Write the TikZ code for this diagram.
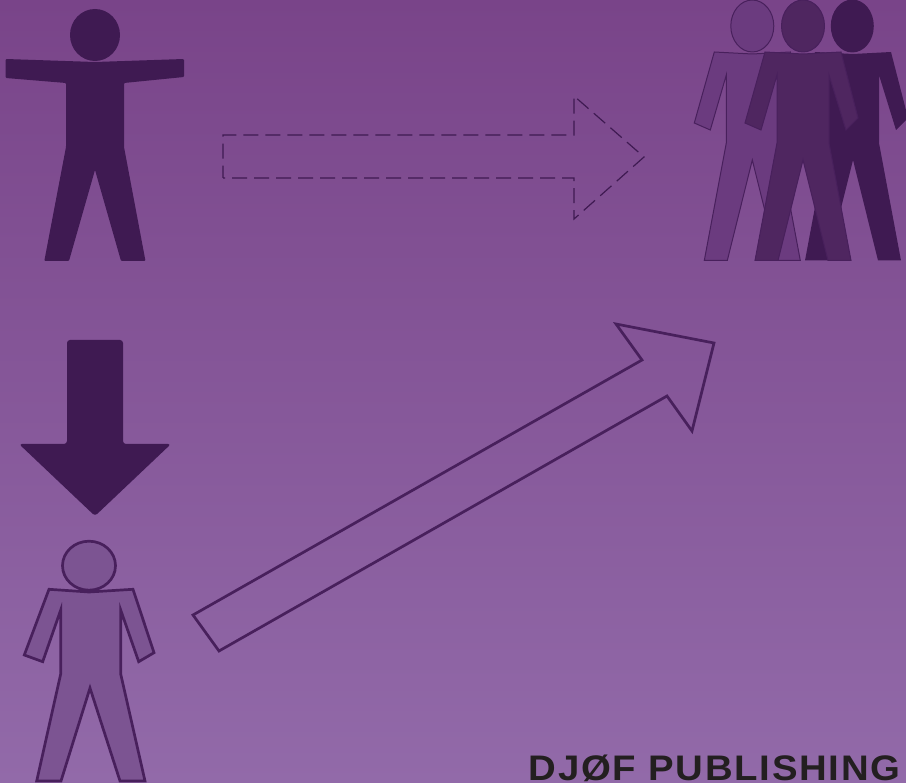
\documentclass[tikz,border=0pt]{standalone}
\usepackage{fontspec}
\newfontfamily\brandfont[LetterSpace=4.8,FakeStretch=1.08]{Liberation Sans}
\definecolor{bgtop}{RGB}{121,68,137}
\definecolor{bgbot}{RGB}{146,106,169}
\definecolor{ink}{RGB}{63,26,82}
\definecolor{lineink}{RGB}{72,32,92}
\definecolor{midfill}{RGB}{79,38,96}
\definecolor{leftfill}{RGB}{107,59,127}
\definecolor{softfill}{RGB}{124,84,146}
\definecolor{brandink}{RGB}{35,31,32}
\newcommand{\groupbody}[1]{
  ({#1-38},52) -- (#1,54) -- ({#1+38},52) -- ({#1+55},118) -- ({#1+43},130) -- ({#1+26},75) -- ({#1+26},143) -- ({#1+48},260.5) -- ({#1+25},260.5) -- (#1,160) -- ({#1-25},260.5) -- ({#1-48},260.5) -- ({#1-26},143) -- ({#1-26},75) -- ({#1-42},130) -- ({#1-58},123) -- cycle
}
\tikzset{
  x=1pt,y=-1pt,
  solidshape/.style={fill=ink,draw=none},
  outlineshape/.style={draw=lineink,line width=2.7pt,line join=miter},
  thinshape/.style={draw=lineink,line width=1pt,line join=miter},
  dashshape/.style={draw=ink,line width=1.2pt,dash pattern=on 15pt off 7pt,dash phase=2.7pt},
}
\begin{document}
\begin{tikzpicture}
\useasboundingbox (0,0) rectangle (906,783);
\begin{scope}
\clip (0,0) rectangle (906,783);
\fill[top color=bgtop,bottom color=bgbot,shading angle=0] (0,0) rectangle (906,783);
% top-left figure
\fill[solidshape] (95,35) ellipse [x radius=25,y radius=26];
\fill[solidshape,rounded corners=1pt] (5.7,59) -- (95,62) -- (184,59) -- (184,77) -- (124,83) -- (124,147) -- (145.5,261) -- (121,261) -- (95,170) -- (69,261) -- (44.3,261) -- (66,147) -- (66,83) -- (5.7,78) -- cycle;
% down arrow
\fill[solidshape,rounded corners=3pt] (67,340) -- (123,340) -- (123,444) -- (171,444) -- (95,516) -- (19,444) -- (67,444) -- cycle;
% bottom-left figure
\draw[outlineshape,fill=softfill] (89,565.7) ellipse [x radius=26.5,y radius=24.5];
\draw[outlineshape,fill=softfill] (49,589.3) -- (89,592) -- (133,589.3) -- (154,652.7) -- (138.7,661.7) -- (120.7,610) -- (120.7,674) -- (145,781) -- (120,781) -- (90,688) -- (61,781) -- (36.7,781) -- (60.7,674) -- (60.7,610) -- (42.7,661.7) -- (24.3,655) -- cycle;
% dashed arrow
\draw[dashshape] (223,178) -- (223,135) -- (574,135) -- (574,96) -- (644,157) -- (574,219) -- (574,178) -- cycle;
% diagonal arrow
\draw[outlineshape] (193,615) -- (642,360) -- (616,324) -- (714,343) -- (692,431) -- (667,396) -- (219,651) -- cycle;
% group: right
\fill[solidshape] (852.3,26) ellipse [x radius=21.5,y radius=26.5];
\fill[solidshape] \groupbody{853};
% group: left
\draw[thinshape,fill=leftfill] (752.3,26) ellipse [x radius=21.5,y radius=26];
\draw[thinshape,fill=leftfill] \groupbody{752.3};
% group: middle
\draw[thinshape,fill=midfill] (803,26) ellipse [x radius=21.5,y radius=26];
\draw[thinshape,fill=midfill] \groupbody{803};
% brand
\node[anchor=base east,inner sep=0pt,text=brandink,font=\brandfont\fontsize{35.5}{36}\selectfont\bfseries] (brand) at (900.5,780) {DJØF PUBLISHING};
\end{scope}
\end{tikzpicture}
\end{document}
